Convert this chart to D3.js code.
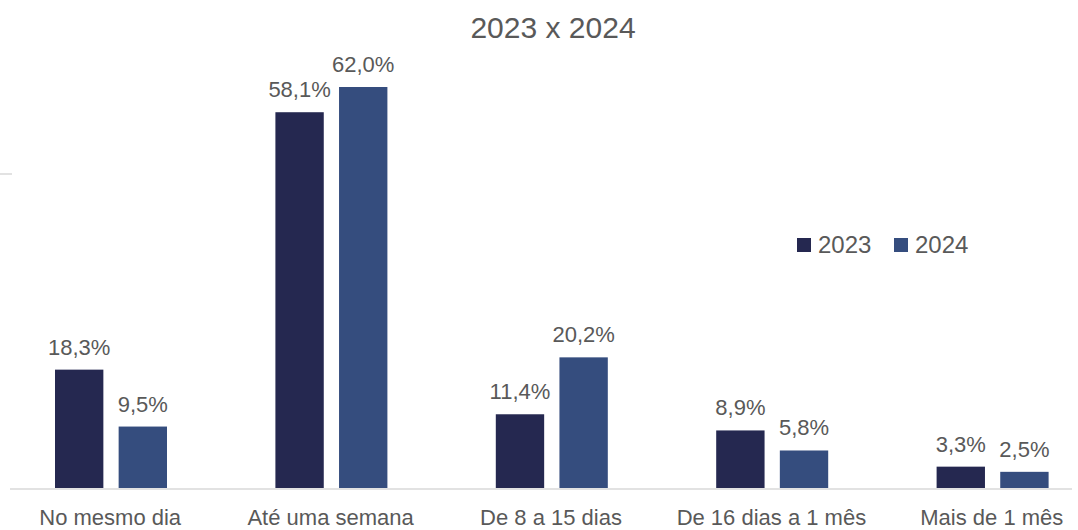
<!DOCTYPE html>
<html>
<head>
<meta charset="utf-8">
<script src="https://cdn.jsdelivr.net/npm/d3@7"></script>
<style>
  body { margin: 0; background: #fff; }
  text { font-family: "Liberation Sans", Arial, sans-serif; fill: #595959; }
</style>
</head>
<body>
<div id="chart"></div>
<script>
    // categories + series values (percent)
    var categories = ["No mesmo dia", "Até uma semana", "De 8 a 15 dias", "De 16 dias a 1 mês", "Mais de 1 mês"];
    var seriesNames = ["2023", "2024"];
    var values2023 = [18.3, 58.1, 11.4, 8.9, 3.3];
    var values2024 = [9.5, 62.0, 20.2, 5.8, 2.5];
    var seriesColors = ["#252850", "#354d7e"];

    var width = 1078, height = 530;
    var baseline = 488;

    var svg = d3.select("#chart")
        .append("svg")
        .attr("width", width)
        .attr("height", height);

    var x = d3.scaleBand()
        .domain(categories)
        .range([0, 1102])
        .paddingInner(0)
        .paddingOuter(0);

    var xInner = d3.scaleBand()
        .domain(seriesNames)
        .range([55, 167])
        .paddingInner(0.24);

    var y = d3.scaleLinear()
        .domain([0, 62])
        .range([baseline, 87]);

    // title
    svg.append("text")
        .attr("x", 553)
        .attr("y", 38)
        .attr("text-anchor", "middle")
        .style("font-size", "30px")
        .text("2023 x 2024");

    // stray left tick
    svg.append("line")
        .attr("x1", 0).attr("x2", 12)
        .attr("y1", 174).attr("y2", 174)
        .attr("stroke", "#d9d9d9")
        .attr("stroke-width", 1.5);

    var rows = categories.map(function(c, i) {
        return { cat: c, vals: [values2023[i], values2024[i]] };
    });

    var groups = svg.selectAll("g.cat")
        .data(rows)
        .enter()
        .append("g")
        .attr("class", "cat")
        .attr("transform", function(d) { return "translate(" + x(d.cat) + ",0)"; });

    var bars = groups.selectAll("g.bar")
        .data(function(d) {
            return d.vals.map(function(v, j) { return { s: seriesNames[j], v: v, j: j }; });
        })
        .enter()
        .append("g")
        .attr("class", "bar");

    bars.append("rect")
        .attr("x", function(d) { return xInner(d.s); })
        .attr("y", function(d) { return y(d.v); })
        .attr("width", xInner.bandwidth())
        .attr("height", function(d) { return baseline - y(d.v); })
        .attr("fill", function(d) { return seriesColors[d.j]; });

    bars.append("text")
        .attr("x", function(d) { return xInner(d.s) + xInner.bandwidth() / 2; })
        .attr("y", function(d) { return y(d.v) - 15; })
        .attr("text-anchor", "middle")
        .style("font-size", "22px")
        .text(function(d) { return d.v.toFixed(1).replace(".", ",") + "%"; });

    // axis line
    svg.append("line")
        .attr("x1", 10).attr("x2", 1072)
        .attr("y1", baseline + 1).attr("y2", baseline + 1)
        .attr("stroke", "#d9d9d9")
        .attr("stroke-width", 1.5);

    // category labels
    svg.selectAll("text.cat-label")
        .data(categories)
        .enter()
        .append("text")
        .attr("class", "cat-label")
        .attr("x", function(d) { return x(d) + x.bandwidth() / 2; })
        .attr("y", 525)
        .attr("text-anchor", "middle")
        .style("font-size", "22px")
        .text(function(d) { return d; });

    // legend
    var legend = svg.append("g")
        .selectAll("g")
        .data(seriesNames)
        .enter()
        .append("g")
        .attr("transform", function(d, i) { return "translate(" + (797 + i * 97) + ",238)"; });

    legend.append("rect")
        .attr("width", 14)
        .attr("height", 14)
        .attr("fill", function(d, i) { return seriesColors[i]; });

    legend.append("text")
        .attr("x", 21)
        .attr("y", 15)
        .style("font-size", "24px")
        .text(function(d) { return d; });
</script>
</body>
</html>
